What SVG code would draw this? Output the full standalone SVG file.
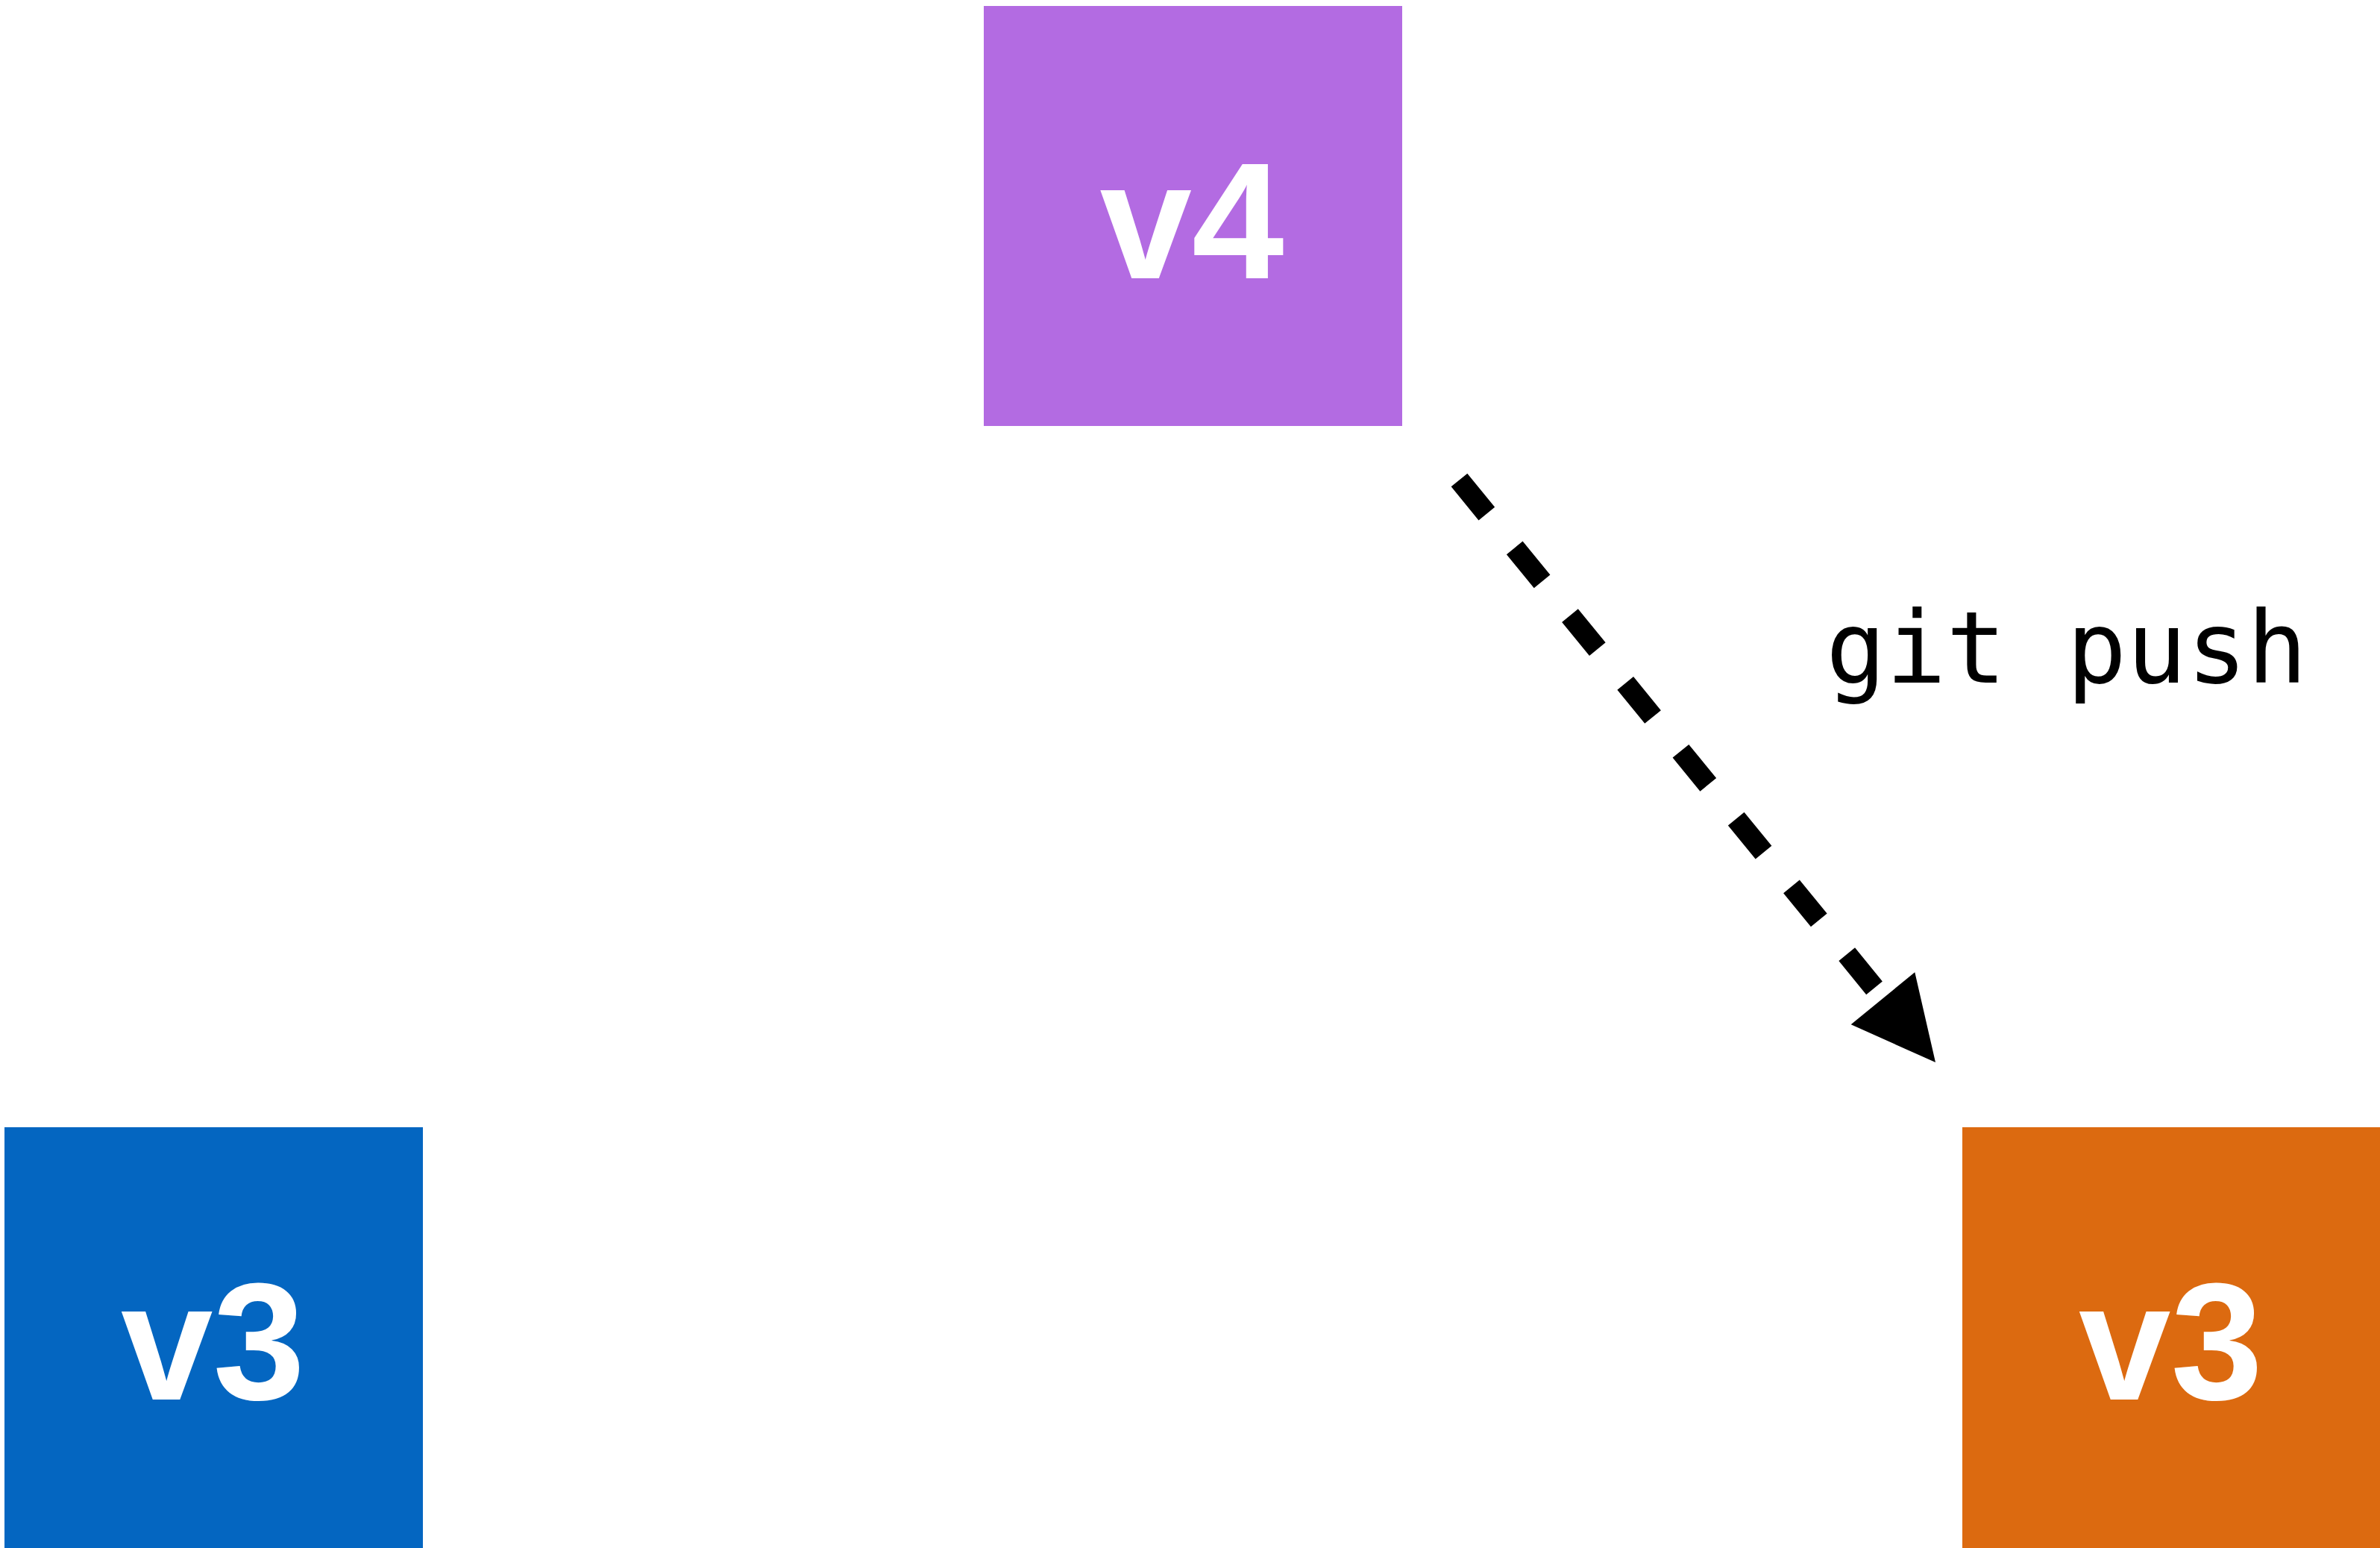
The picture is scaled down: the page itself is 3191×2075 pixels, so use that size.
<svg xmlns="http://www.w3.org/2000/svg" width="3191" height="2075" viewBox="0 0 3191 2075">
<style>
.box{stroke:none}
.lbl{font-family:"Liberation Sans",Arial,Helvetica,sans-serif;font-weight:bold;font-size:222px;fill:#ffffff;text-anchor:middle}
.edge{fill:none;stroke:#000000;stroke-width:28;stroke-dasharray:58.2 59.1;stroke-linecap:butt}
.elbl{font-family:"DejaVu Sans Mono",monospace;font-size:134px;fill:#000000}
</style>
<rect width="3191" height="2075" fill="#ffffff"/>
<g id="node-v4-local">
<rect class="box" x="1319" y="8" width="561" height="563" fill="#B36BE2"/>
<text class="lbl" x="1598" y="373">v4</text>
</g>
<g id="node-v3-blue">
<rect class="box" x="6" y="1511" width="561" height="566" fill="#0466C1"/>
<text class="lbl" x="285.5" y="1876">v3</text>
</g>
<g id="node-v3-orange">
<rect class="box" x="2631" y="1511" width="562" height="566" fill="#DC6A10"/>
<text class="lbl" x="2910.5" y="1876">v3</text>
</g>
<g id="connectors">
<path class="edge" d="M1956.5,643.5 L2524.5,1338.3"/>
<polygon points="2481.7,1373.3 2567.3,1303.3 2595,1424" fill="#000000"/>
<text class="elbl" x="2448" y="915">git push</text>
</g>
</svg>
